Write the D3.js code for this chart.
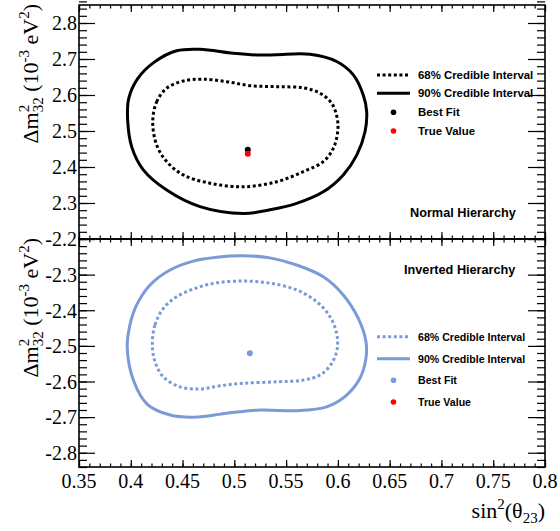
<!DOCTYPE html>
<html>
<head>
<meta charset="utf-8">
<script src="https://cdn.jsdelivr.net/npm/d3@7"></script>
<style>
  body { margin: 0; background: #fff; }
</style>
</head>
<body>
<div class="plot-item"></div>
<script>
var w = 560;
var h = 531;
var blue = "#7a9ad8";
var serif = "'Liberation Serif', 'Times New Roman', serif";
var sans = "'Liberation Sans', Arial, sans-serif";

// x axis (shared)
var xTicks = [0.35, 0.4, 0.45, 0.5, 0.55, 0.6, 0.65, 0.7, 0.75, 0.8];
var xTickLabels = ["0.35", "0.4", "0.45", "0.5", "0.55", "0.6", "0.65", "0.7", "0.75", "0.8"];

// y ticks
var nhYTicks = [2.2, 2.3, 2.4, 2.5, 2.6, 2.7, 2.8];
var nhYTickLabels = ["", "2.3", "2.4", "2.5", "2.6", "2.7", "2.8"];
var ihYTicks = [-2.8, -2.7, -2.6, -2.5, -2.4, -2.3, -2.2];
var ihYTickLabels = ["-2.8", "-2.7", "-2.6", "-2.5", "-2.4", "-2.3", "-2.2"];

// normal hierarchy contours [sin2(theta23), dm2_32]
var nhOuter = [
  [0.3970, 2.530], [0.3980, 2.590], [0.4065, 2.645], [0.4230, 2.692], [0.4443, 2.723],
  [0.4668, 2.727], [0.4990, 2.716], [0.5248, 2.711], [0.5409, 2.712], [0.5731, 2.713],
  [0.5988, 2.693], [0.6149, 2.656], [0.6245, 2.600], [0.6278, 2.554], [0.6262, 2.498],
  [0.6182, 2.433], [0.6052, 2.378], [0.5859, 2.331], [0.5602, 2.299], [0.5344, 2.281],
  [0.5087, 2.271], [0.4668, 2.290], [0.4347, 2.336], [0.4121, 2.392], [0.4009, 2.456]
];
var nhInner = [
  [0.4212, 2.526], [0.4250, 2.581], [0.4347, 2.619], [0.4507, 2.639], [0.4700, 2.644],
  [0.4926, 2.637], [0.5151, 2.626], [0.5409, 2.623], [0.5666, 2.620], [0.5827, 2.605],
  [0.5940, 2.577], [0.5994, 2.535], [0.5998, 2.498], [0.5956, 2.452], [0.5859, 2.415],
  [0.5666, 2.387], [0.5409, 2.359], [0.5087, 2.345], [0.4765, 2.355], [0.4507, 2.378],
  [0.4347, 2.415], [0.4250, 2.461]
];
var nhBestFit = [0.513, 2.448];
var nhTrueValue = [0.513, 2.437];

// inverted hierarchy contours
var ihOuter = [
  [0.3966, -2.507], [0.3992, -2.441], [0.4057, -2.385], [0.4186, -2.329], [0.4379, -2.287],
  [0.4604, -2.262], [0.4830, -2.251], [0.5087, -2.247], [0.5344, -2.253], [0.5602, -2.273],
  [0.5859, -2.306], [0.6052, -2.357], [0.6197, -2.423], [0.6271, -2.488], [0.6271, -2.535],
  [0.6213, -2.591], [0.6085, -2.638], [0.5892, -2.671], [0.5602, -2.682], [0.5248, -2.680],
  [0.4926, -2.689], [0.4620, -2.700], [0.4380, -2.694], [0.4160, -2.664], [0.4030, -2.600]
];
var ihInner = [
  [0.4208, -2.498], [0.4234, -2.441], [0.4314, -2.395], [0.4443, -2.362], [0.4637, -2.337],
  [0.4830, -2.323], [0.5087, -2.318], [0.5344, -2.324], [0.5602, -2.343], [0.5795, -2.376],
  [0.5924, -2.418], [0.5988, -2.465], [0.5994, -2.507], [0.5940, -2.549], [0.5827, -2.582],
  [0.5666, -2.596], [0.5409, -2.601], [0.5087, -2.605], [0.4862, -2.612], [0.4668, -2.621],
  [0.4475, -2.615], [0.4314, -2.587], [0.4234, -2.544]
];
var ihBestFit = [0.515, -2.521];

var legendLabels = ["68% Credible Interval", "90% Credible Interval", "Best Fit", "True Value"];

var frame = { left: 79, right: 545 };
var svg = d3.select(".plot-item").append("svg")
      .attr("width", w)
      .attr("height", h);

var x = d3.scaleLinear()
      .domain([0.35, 0.8])
      .range([frame.left, frame.right]);

var xMinor = d3.range(35, 81).map(function(d){ return d / 100; });

function drawPanel(params){
  var y = d3.scaleLinear()
        .domain(params.yDomain)
        .range([params.bottom, params.top]);
  var g = svg.append("g").classed("panel", true);
  var yMinor = d3.range(Math.round(params.yDomain[0] * 50), Math.round(params.yDomain[1] * 50) + 1)
        .map(function(d){ return d / 50; });

  // ticks, all pointing inward
  g.append("g")
    .attr("transform", "translate(0," + params.bottom + ")")
    .call(d3.axisBottom(x).tickValues(xMinor).tickSize(-3.5).tickFormat(""));
  g.append("g")
    .attr("transform", "translate(0," + params.bottom + ")")
    .call(d3.axisBottom(x).tickValues(xTicks).tickSize(-7).tickFormat(""));
  g.append("g")
    .attr("transform", "translate(0," + params.top + ")")
    .call(d3.axisTop(x).tickValues(xMinor).tickSize(-3.5).tickFormat(""));
  g.append("g")
    .attr("transform", "translate(0," + params.top + ")")
    .call(d3.axisTop(x).tickValues(xTicks).tickSize(-7).tickFormat(""));
  g.append("g")
    .attr("transform", "translate(" + frame.left + ",0)")
    .call(d3.axisLeft(y).tickValues(yMinor).tickSize(-8).tickFormat(""));
  g.append("g")
    .attr("transform", "translate(" + frame.left + ",0)")
    .call(d3.axisLeft(y).tickValues(params.yTicks).tickSize(-16).tickFormat(""));
  g.append("g")
    .attr("transform", "translate(" + frame.right + ",0)")
    .call(d3.axisRight(y).tickValues(yMinor).tickSize(-8).tickFormat(""));
  g.append("g")
    .attr("transform", "translate(" + frame.right + ",0)")
    .call(d3.axisRight(y).tickValues(params.yTicks).tickSize(-17).tickFormat(""));
  g.selectAll(".domain").remove();
  g.selectAll(".tick line").attr("stroke", "#000").attr("stroke-width", 1.2);

  // y tick labels
  g.selectAll(".ylab")
    .data(params.yTicks)
    .enter()
      .append("text")
      .style("font-family", serif)
      .style("font-size", "20px")
      .attr("fill", "#000")
      .attr("text-anchor", "end")
      .attr("x", frame.left - 2)
      .attr("y", function(d){ return y(d) + 7.3; })
      .text(function(d, i){ return params.yTickLabels[i]; });

  // frame
  g.append("rect")
    .attr("x", frame.left)
    .attr("y", params.top)
    .attr("width", frame.right - frame.left)
    .attr("height", params.bottom - params.top)
    .attr("fill", "none")
    .attr("stroke", "#000")
    .attr("stroke-width", 1.6);

  // contours
  var line = d3.line()
        .x(function(d){ return x(d[0]); })
        .y(function(d){ return y(d[1]); })
        .curve(d3.curveCatmullRomClosed.alpha(0.5));
  g.append("path")
    .attr("d", line(params.outer))
    .attr("fill", "none")
    .attr("stroke", params.color)
    .attr("stroke-width", 3);
  g.append("path")
    .attr("d", line(params.inner))
    .attr("fill", "none")
    .attr("stroke", params.color)
    .attr("stroke-width", 3)
    .attr("stroke-dasharray", "3,2.6");

  g.append("circle")
    .attr("cx", x(params.bestFit[0]))
    .attr("cy", y(params.bestFit[1]))
    .attr("r", 3)
    .attr("fill", params.color);
  if(params.trueValue){
    g.append("circle")
      .attr("cx", x(params.trueValue[0]))
      .attr("cy", y(params.trueValue[1]))
      .attr("r", 3)
      .attr("fill", "#ff0000");
  }

  // legend
  var lg = g.append("g");
  var rows = params.legendRows;
  lg.append("line")
    .attr("x1", 377).attr("x2", 410)
    .attr("y1", rows[0]).attr("y2", rows[0])
    .attr("stroke", params.color).attr("stroke-width", 3)
    .attr("stroke-dasharray", "3,2.6");
  lg.append("line")
    .attr("x1", 377).attr("x2", 410)
    .attr("y1", rows[1]).attr("y2", rows[1])
    .attr("stroke", params.color).attr("stroke-width", 3);
  lg.append("circle")
    .attr("cx", 393.5).attr("cy", rows[2]).attr("r", 2.8)
    .attr("fill", params.color);
  lg.append("circle")
    .attr("cx", 393.5).attr("cy", rows[3]).attr("r", 2.8)
    .attr("fill", "#ff0000");
  lg.selectAll(".legend-text")
    .data(legendLabels)
    .enter()
      .append("text")
      .style("font-family", sans)
      .style("font-weight", "bold")
      .style("font-size", params.legendSize + "px")
      .attr("x", 418)
      .attr("y", function(d, i){ return rows[i] + params.legendSize * 0.36; })
      .text(function(d){ return d; });

  g.append("text")
    .style("font-family", sans)
    .style("font-weight", "bold")
    .style("font-size", "12.7px")
    .attr("x", params.titlePos[0])
    .attr("y", params.titlePos[1])
    .text(params.title);

  // y axis title, right aligned to top of the frame
  var t = g.append("text")
        .style("font-family", serif)
        .style("font-size", "22px")
        .attr("text-anchor", "end")
        .attr("transform", "translate(38," + (params.top - 1) + ") rotate(-90)");
  t.append("tspan").text("\u0394m");
  t.append("tspan").attr("font-size", 15).attr("dy", -9).text("2");
  t.append("tspan").attr("font-size", 15).attr("dx", -7.5).attr("dy", 14).text("32");
  t.append("tspan").attr("dy", -5).text(" (10");
  t.append("tspan").attr("font-size", 15).attr("dy", -9).text("-3");
  t.append("tspan").attr("dy", 9).text(" eV");
  t.append("tspan").attr("font-size", 15).attr("dy", -9).text("2");
  t.append("tspan").attr("dy", 9).text(")");

  return y;
}

drawPanel({
  top: 5, bottom: 239, yDomain: [2.2, 2.85],
  yTicks: nhYTicks, yTickLabels: nhYTickLabels,
  outer: nhOuter, inner: nhInner, bestFit: nhBestFit, trueValue: nhTrueValue,
  color: "#000", legendRows: [75, 93.3, 112.3, 131], legendSize: 11.4,
  title: "Normal Hierarchy", titlePos: [410, 217]
});

drawPanel({
  top: 239, bottom: 467, yDomain: [-2.84, -2.2],
  yTicks: ihYTicks, yTickLabels: ihYTickLabels,
  outer: ihOuter, inner: ihInner, bestFit: ihBestFit, trueValue: null,
  color: blue, legendRows: [336.7, 358.7, 380.3, 402], legendSize: 10.6,
  title: "Inverted Hierarchy", titlePos: [404, 274]
});

// x tick labels
svg.selectAll(".xlab")
  .data(xTicks)
  .enter()
    .append("text")
    .style("font-family", serif)
    .style("font-size", "20px")
    .attr("text-anchor", "middle")
    .attr("x", function(d){ return x(d); })
    .attr("y", 488)
    .text(function(d, i){ return xTickLabels[i]; });

// x axis title
var xt = svg.append("text")
      .style("font-family", serif)
      .style("font-size", "22px")
      .attr("text-anchor", "end")
      .attr("x", frame.right)
      .attr("y", 518);
xt.append("tspan").text("sin");
xt.append("tspan").attr("font-size", 15).attr("dy", -9).text("2");
xt.append("tspan").attr("dy", 9).text("(\u03b8");
xt.append("tspan").attr("font-size", 15).attr("dy", 5).text("23");
xt.append("tspan").attr("dy", -5).text(")");
</script>
</body>
</html>
